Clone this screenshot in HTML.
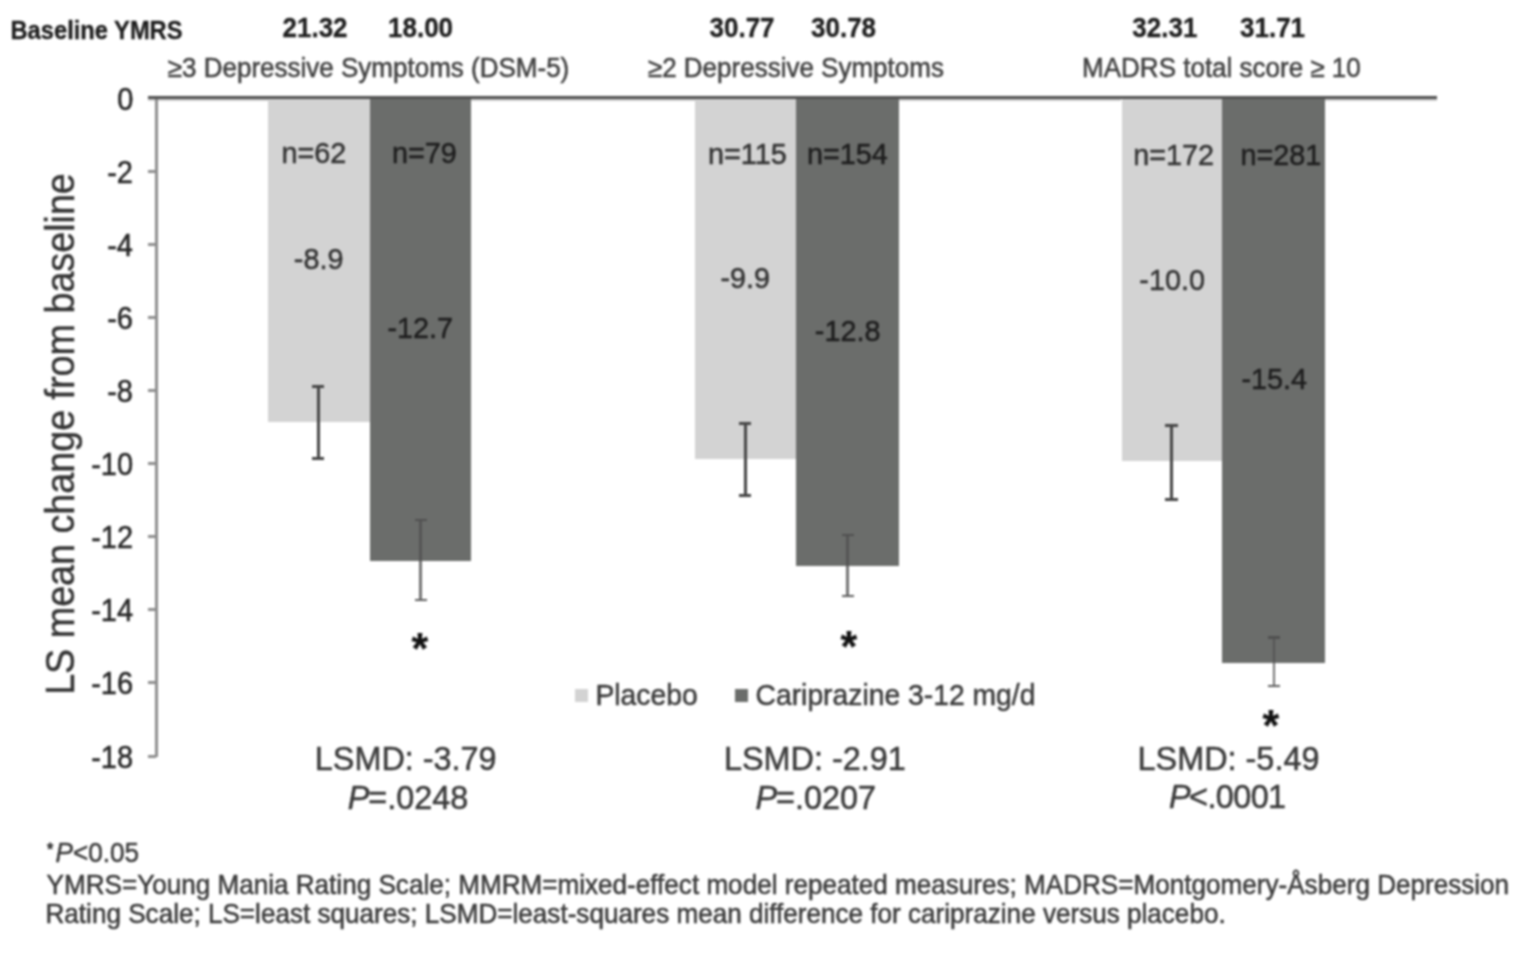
<!DOCTYPE html>
<html><head><meta charset="utf-8"><style>
html,body{margin:0;padding:0;background:#fff;}
body{width:1530px;height:957px;position:relative;overflow:hidden;font-family:"Liberation Sans", sans-serif;}
#c div{position:absolute;}
#all{position:absolute;left:0;top:0;width:1530px;height:957px;filter:blur(0.8px);}
.t{position:absolute;-webkit-text-stroke:0.5px currentColor;}
.t.b{-webkit-text-stroke:0.3px currentColor;}
.ytitle{position:absolute;left:61.2px;top:433.5px;width:0;height:0;}
.ytitle span{position:absolute;left:0;top:0;transform:translate(-50%,-50%) rotate(-90deg) scaleY(1.07);font-size:37.7px;line-height:1;white-space:nowrap;color:#333;-webkit-text-stroke:0.4px currentColor;}
</style></head><body><div id="all"><div id="c">
<div style="left:267.5px;top:99px;width:102.8px;height:323px;background:#d3d3d3"></div><div style="left:370.3px;top:99px;width:100.7px;height:461.6px;background:#6b6d6b"></div><div style="left:694.5px;top:99px;width:101.5px;height:359.9px;background:#d3d3d3"></div><div style="left:796px;top:99px;width:102.7px;height:466.5px;background:#6b6d6b"></div><div style="left:1121.5px;top:99px;width:100.5px;height:362.1px;background:#d3d3d3"></div><div style="left:1222px;top:99px;width:102.5px;height:563.7px;background:#6b6d6b"></div><div style="left:148px;top:96px;width:1289px;height:3.4px;background:#505050"></div><div style="left:148px;top:99.4px;width:119.5px;height:1.2px;background:#d0d0d0"></div><div style="left:471px;top:99.4px;width:223.5px;height:1.2px;background:#d0d0d0"></div><div style="left:898.7px;top:99.4px;width:222.8px;height:1.2px;background:#d0d0d0"></div><div style="left:1324.5px;top:99.4px;width:112.5px;height:1.2px;background:#d0d0d0"></div><div style="left:154.6px;top:99.4px;width:3.0px;height:658.1px;background:#8e8e8e"></div><div style="left:148px;top:169.97px;width:8px;height:3.0px;background:#8e8e8e"></div><div style="left:148px;top:243.04px;width:8px;height:3.0px;background:#8e8e8e"></div><div style="left:148px;top:316.11px;width:8px;height:3.0px;background:#8e8e8e"></div><div style="left:148px;top:389.18px;width:8px;height:3.0px;background:#8e8e8e"></div><div style="left:148px;top:462.25px;width:8px;height:3.0px;background:#8e8e8e"></div><div style="left:148px;top:535.32px;width:8px;height:3.0px;background:#8e8e8e"></div><div style="left:148px;top:608.39px;width:8px;height:3.0px;background:#8e8e8e"></div><div style="left:148px;top:681.46px;width:8px;height:3.0px;background:#8e8e8e"></div><div style="left:148px;top:754.53px;width:8px;height:3.0px;background:#8e8e8e"></div><div style="left:316.7px;top:386.3px;width:3.0px;height:72.0px;background:#454545"></div><div style="left:312.0px;top:384.8px;width:12.4px;height:3.0px;background:#454545"></div><div style="left:312.0px;top:456.8px;width:12.4px;height:3.0px;background:#454545"></div><div style="left:419.1px;top:520px;width:2.8px;height:40.6px;background:#555555"></div><div style="left:419.25px;top:560.6px;width:2.5px;height:39.4px;background:#737373"></div><div style="left:414.5px;top:518.7px;width:12.0px;height:2.6px;background:#505050"></div><div style="left:414.5px;top:598.7px;width:12.0px;height:2.6px;background:#5e5e5e"></div><div style="left:743.7px;top:423px;width:3.0px;height:72.8px;background:#454545"></div><div style="left:739.0px;top:421.5px;width:12.4px;height:3.0px;background:#454545"></div><div style="left:739.0px;top:494.3px;width:12.4px;height:3.0px;background:#454545"></div><div style="left:846.1px;top:535px;width:2.8px;height:30.5px;background:#555555"></div><div style="left:846.25px;top:565.5px;width:2.5px;height:30.5px;background:#737373"></div><div style="left:841.5px;top:533.7px;width:12.0px;height:2.6px;background:#505050"></div><div style="left:841.5px;top:594.7px;width:12.0px;height:2.6px;background:#5e5e5e"></div><div style="left:1170.0px;top:425.7px;width:3.0px;height:74.0px;background:#454545"></div><div style="left:1165.3px;top:424.2px;width:12.4px;height:3.0px;background:#454545"></div><div style="left:1165.3px;top:498.2px;width:12.4px;height:3.0px;background:#454545"></div><div style="left:1272.6px;top:637.6px;width:2.8px;height:25.1px;background:#555555"></div><div style="left:1272.75px;top:662.7px;width:2.5px;height:23.2px;background:#737373"></div><div style="left:1268px;top:636.3px;width:12px;height:2.6px;background:#505050"></div><div style="left:1268px;top:684.6px;width:12px;height:2.6px;background:#5e5e5e"></div><div style="left:575px;top:688.5px;width:13px;height:13.5px;background:#d3d3d3"></div><div style="left:735px;top:688.5px;width:13px;height:13.5px;background:#6b6d6b"></div>
</div>
<div class="ytitle"><span>LS mean change from baseline</span></div>
<div class="t b" style="left:10.5px;top:19.0px;color:#1e1e1e;font-family:'Liberation Sans', sans-serif;font-size:23.7px;font-weight:700;line-height:1;white-space:nowrap;transform-origin:0 0;transform:scaleY(1.05);">Baseline YMRS</div><div class="t b" style="left:282.5px;top:13.8px;color:#1e1e1e;font-family:'Liberation Sans', sans-serif;font-size:26px;font-weight:700;line-height:1;white-space:nowrap;transform-origin:0 0;transform:scaleY(1.05);">21.32</div><div class="t b" style="left:388.0px;top:13.8px;color:#1e1e1e;font-family:'Liberation Sans', sans-serif;font-size:26px;font-weight:700;line-height:1;white-space:nowrap;transform-origin:0 0;transform:scaleY(1.05);">18.00</div><div class="t b" style="left:709.5px;top:13.8px;color:#1e1e1e;font-family:'Liberation Sans', sans-serif;font-size:26px;font-weight:700;line-height:1;white-space:nowrap;transform-origin:0 0;transform:scaleY(1.05);">30.77</div><div class="t b" style="left:811.0px;top:13.8px;color:#1e1e1e;font-family:'Liberation Sans', sans-serif;font-size:26px;font-weight:700;line-height:1;white-space:nowrap;transform-origin:0 0;transform:scaleY(1.05);">30.78</div><div class="t b" style="left:1132.3px;top:13.8px;color:#1e1e1e;font-family:'Liberation Sans', sans-serif;font-size:26px;font-weight:700;line-height:1;white-space:nowrap;transform-origin:0 0;transform:scaleY(1.05);">32.31</div><div class="t b" style="left:1240.0px;top:13.8px;color:#1e1e1e;font-family:'Liberation Sans', sans-serif;font-size:26px;font-weight:700;line-height:1;white-space:nowrap;transform-origin:0 0;transform:scaleY(1.05);">31.71</div><div class="t" style="left:167.8px;top:53.9px;color:#404040;font-family:'Liberation Sans', sans-serif;font-size:26px;font-weight:400;line-height:1;white-space:nowrap;transform-origin:0 0;transform:scaleY(1.05);">&ge;3 Depressive Symptoms (DSM-5)</div><div class="t" style="left:647.9px;top:54.1px;color:#404040;font-family:'Liberation Sans', sans-serif;font-size:26px;font-weight:400;line-height:1;white-space:nowrap;transform-origin:0 0;transform:scaleY(1.05);">&ge;2 Depressive Symptoms</div><div class="t" style="left:1082.1px;top:54.1px;color:#404040;font-family:'Liberation Sans', sans-serif;font-size:26px;font-weight:400;line-height:1;white-space:nowrap;transform-origin:0 0;transform:scaleY(1.05);">MADRS total score &ge; 10</div><div class="t" style="left:117.2px;top:84.9px;color:#262626;font-family:'Liberation Sans', sans-serif;font-size:29px;font-weight:400;line-height:1;white-space:nowrap;transform-origin:0 0;transform:scaleY(1.05);">0</div><div class="t" style="left:107.2px;top:157.97px;color:#262626;font-family:'Liberation Sans', sans-serif;font-size:29px;font-weight:400;line-height:1;white-space:nowrap;transform-origin:0 0;transform:scaleY(1.05);">-2</div><div class="t" style="left:107.2px;top:231.04px;color:#262626;font-family:'Liberation Sans', sans-serif;font-size:29px;font-weight:400;line-height:1;white-space:nowrap;transform-origin:0 0;transform:scaleY(1.05);">-4</div><div class="t" style="left:107.2px;top:304.11px;color:#262626;font-family:'Liberation Sans', sans-serif;font-size:29px;font-weight:400;line-height:1;white-space:nowrap;transform-origin:0 0;transform:scaleY(1.05);">-6</div><div class="t" style="left:107.2px;top:377.18px;color:#262626;font-family:'Liberation Sans', sans-serif;font-size:29px;font-weight:400;line-height:1;white-space:nowrap;transform-origin:0 0;transform:scaleY(1.05);">-8</div><div class="t" style="left:91.2px;top:450.25px;color:#262626;font-family:'Liberation Sans', sans-serif;font-size:29px;font-weight:400;line-height:1;white-space:nowrap;transform-origin:0 0;transform:scaleY(1.05);">-10</div><div class="t" style="left:91.2px;top:523.32px;color:#262626;font-family:'Liberation Sans', sans-serif;font-size:29px;font-weight:400;line-height:1;white-space:nowrap;transform-origin:0 0;transform:scaleY(1.05);">-12</div><div class="t" style="left:91.2px;top:596.39px;color:#262626;font-family:'Liberation Sans', sans-serif;font-size:29px;font-weight:400;line-height:1;white-space:nowrap;transform-origin:0 0;transform:scaleY(1.05);">-14</div><div class="t" style="left:91.2px;top:669.46px;color:#262626;font-family:'Liberation Sans', sans-serif;font-size:29px;font-weight:400;line-height:1;white-space:nowrap;transform-origin:0 0;transform:scaleY(1.05);">-16</div><div class="t" style="left:91.2px;top:742.53px;color:#262626;font-family:'Liberation Sans', sans-serif;font-size:29px;font-weight:400;line-height:1;white-space:nowrap;transform-origin:0 0;transform:scaleY(1.05);">-18</div><div class="t" style="left:281.5px;top:138.2px;color:#333;font-family:'Liberation Sans', sans-serif;font-size:28.8px;font-weight:400;line-height:1;white-space:nowrap;transform-origin:0 0;transform:scaleY(1.05);">n=62</div><div class="t" style="left:392.0px;top:138.2px;color:#1e1e1e;font-family:'Liberation Sans', sans-serif;font-size:28.8px;font-weight:400;line-height:1;white-space:nowrap;transform-origin:0 0;transform:scaleY(1.05);">n=79</div><div class="t" style="left:293.8px;top:244.3px;color:#333;font-family:'Liberation Sans', sans-serif;font-size:28.8px;font-weight:400;line-height:1;white-space:nowrap;transform-origin:0 0;transform:scaleY(1.05);">-8.9</div><div class="t" style="left:387.5px;top:312.6px;color:#1e1e1e;font-family:'Liberation Sans', sans-serif;font-size:28.8px;font-weight:400;line-height:1;white-space:nowrap;transform-origin:0 0;transform:scaleY(1.05);">-12.7</div><div class="t" style="left:708.0px;top:139.2px;color:#333;font-family:'Liberation Sans', sans-serif;font-size:28.8px;font-weight:400;line-height:1;white-space:nowrap;transform-origin:0 0;transform:scaleY(1.05);">n=115</div><div class="t" style="left:807.0px;top:139.2px;color:#1e1e1e;font-family:'Liberation Sans', sans-serif;font-size:28.8px;font-weight:400;line-height:1;white-space:nowrap;transform-origin:0 0;transform:scaleY(1.05);">n=154</div><div class="t" style="left:720.5px;top:263.2px;color:#333;font-family:'Liberation Sans', sans-serif;font-size:28.8px;font-weight:400;line-height:1;white-space:nowrap;transform-origin:0 0;transform:scaleY(1.05);">-9.9</div><div class="t" style="left:814.8px;top:315.8px;color:#1e1e1e;font-family:'Liberation Sans', sans-serif;font-size:28.8px;font-weight:400;line-height:1;white-space:nowrap;transform-origin:0 0;transform:scaleY(1.05);">-12.8</div><div class="t" style="left:1133.2px;top:139.5px;color:#333;font-family:'Liberation Sans', sans-serif;font-size:28.8px;font-weight:400;line-height:1;white-space:nowrap;transform-origin:0 0;transform:scaleY(1.05);">n=172</div><div class="t" style="left:1240.5px;top:139.5px;color:#1e1e1e;font-family:'Liberation Sans', sans-serif;font-size:28.8px;font-weight:400;line-height:1;white-space:nowrap;transform-origin:0 0;transform:scaleY(1.05);">n=281</div><div class="t" style="left:1139.3px;top:264.6px;color:#333;font-family:'Liberation Sans', sans-serif;font-size:28.8px;font-weight:400;line-height:1;white-space:nowrap;transform-origin:0 0;transform:scaleY(1.05);">-10.0</div><div class="t" style="left:1241.5px;top:364.0px;color:#1e1e1e;font-family:'Liberation Sans', sans-serif;font-size:28.8px;font-weight:400;line-height:1;white-space:nowrap;transform-origin:0 0;transform:scaleY(1.05);">-15.4</div><div class="t" style="left:314.8px;top:742.0px;color:#3a3a3a;font-family:'Liberation Sans', sans-serif;font-size:32.4px;font-weight:400;line-height:1;white-space:nowrap;transform-origin:0 0;transform:scaleY(1.05);">LSMD: -3.79</div><div class="t" style="left:347.7px;top:780.9px;color:#3a3a3a;font-family:'Liberation Sans', sans-serif;font-size:32.4px;font-weight:400;line-height:1;white-space:nowrap;transform-origin:0 0;transform:scaleY(1.05);"><i style="margin-right:-1px">P</i>=.0248</div><div class="t" style="left:724.0px;top:742.0px;color:#3a3a3a;font-family:'Liberation Sans', sans-serif;font-size:32.4px;font-weight:400;line-height:1;white-space:nowrap;transform-origin:0 0;transform:scaleY(1.05);">LSMD: -2.91</div><div class="t" style="left:755.5px;top:780.9px;color:#3a3a3a;font-family:'Liberation Sans', sans-serif;font-size:32.4px;font-weight:400;line-height:1;white-space:nowrap;transform-origin:0 0;transform:scaleY(1.05);"><i style="margin-right:-1px">P</i>=.0207</div><div class="t" style="left:1137.6px;top:742.3px;color:#3a3a3a;font-family:'Liberation Sans', sans-serif;font-size:32.4px;font-weight:400;line-height:1;white-space:nowrap;transform-origin:0 0;transform:scaleY(1.05);">LSMD: -5.49</div><div class="t" style="left:1169.1px;top:780.4px;color:#3a3a3a;font-family:'Liberation Sans', sans-serif;font-size:32.4px;font-weight:400;line-height:1;white-space:nowrap;transform-origin:0 0;transform:scaleY(1.05);letter-spacing:-0.6px;"><i style="margin-right:-1px">P</i>&lt;.0001</div><div class="t" style="left:595.4px;top:680.0px;color:#3a3a3a;font-family:'Liberation Sans', sans-serif;font-size:28.3px;font-weight:400;line-height:1;white-space:nowrap;transform-origin:0 0;transform:scaleY(1.05);">Placebo</div><div class="t" style="left:755.5px;top:680.0px;color:#3a3a3a;font-family:'Liberation Sans', sans-serif;font-size:28.3px;font-weight:400;line-height:1;white-space:nowrap;transform-origin:0 0;transform:scaleY(1.05);">Cariprazine 3-12 mg/d</div><div class="t" style="left:411.6px;top:625.5px;color:#111;font-family:'Liberation Sans', sans-serif;font-size:43px;font-weight:700;line-height:1;white-space:nowrap;transform-origin:0 0;transform:scaleY(1.05);-webkit-text-stroke:0.2px #111;">*</div><div class="t" style="left:840.5px;top:623.5px;color:#111;font-family:'Liberation Sans', sans-serif;font-size:43px;font-weight:700;line-height:1;white-space:nowrap;transform-origin:0 0;transform:scaleY(1.05);-webkit-text-stroke:0.2px #111;">*</div><div class="t" style="left:1262.6px;top:703.2px;color:#111;font-family:'Liberation Sans', sans-serif;font-size:43px;font-weight:700;line-height:1;white-space:nowrap;transform-origin:0 0;transform:scaleY(1.05);-webkit-text-stroke:0.2px #111;">*</div><div class="t" style="left:47.2px;top:839.3px;color:#3a3a3a;font-family:'Liberation Sans', sans-serif;font-size:26.1px;font-weight:400;line-height:1;white-space:nowrap;transform-origin:0 0;transform:scaleY(1.05);"><span style="font-size:15px;vertical-align:7px;-webkit-text-stroke:1px currentColor;margin-right:2.5px">*</span><i>P</i>&lt;0.05</div><div class="t" style="left:46.5px;top:870.6px;color:#3a3a3a;font-family:'Liberation Sans', sans-serif;font-size:26.1px;font-weight:400;line-height:1;white-space:nowrap;transform-origin:0 0;transform:scaleY(1.05);">YMRS=Young Mania Rating Scale; MMRM=mixed-effect model repeated measures; MADRS=Montgomery-&Aring;sberg Depression</div><div class="t" style="left:45.5px;top:900.4px;color:#3a3a3a;font-family:'Liberation Sans', sans-serif;font-size:26.1px;font-weight:400;line-height:1;white-space:nowrap;transform-origin:0 0;transform:scaleY(1.05);">Rating Scale; LS=least squares; LSMD=least-squares mean difference for cariprazine versus placebo.</div>
</div></body></html>
